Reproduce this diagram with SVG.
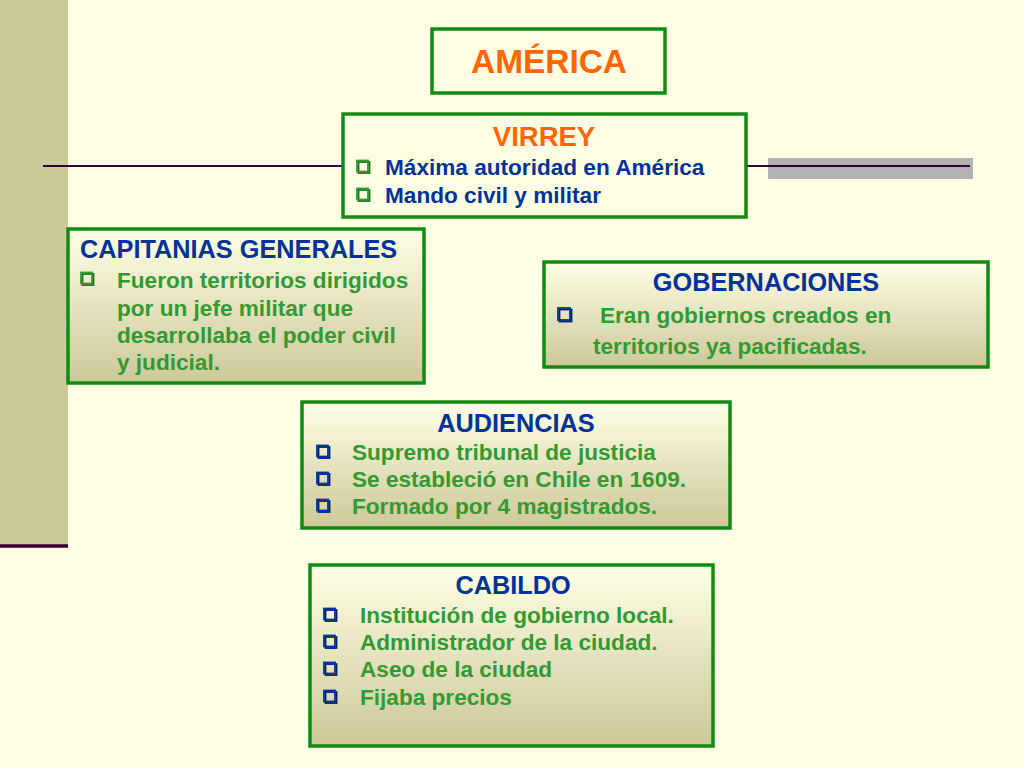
<svg xmlns="http://www.w3.org/2000/svg" width="1024" height="768" viewBox="0 0 1024 768">
<defs>
<linearGradient id="g" x1="0" y1="0" x2="0" y2="1">
<stop offset="0" stop-color="#FFFFE6"/>
<stop offset="1" stop-color="#CCC898"/>
</linearGradient>
<style>
.box{stroke:#138A13;stroke-width:3.5}
.plain{fill:#FFFFE3}
.grad{fill:url(#g)}
text{font-family:"Liberation Sans",Arial,sans-serif;font-weight:bold}
.or{fill:#FF6600}
.bl{fill:#003399}
.gr{fill:#339933}
.t{font-size:25.3px}
.s{font-size:22.6px}
.bg{fill:none;stroke:#339933;stroke-width:1.8}
.bgs{fill:none;stroke:#1F6E1F;stroke-width:1.8}
.bb{fill:none;stroke:#003399;stroke-width:1.8}
.bbs{fill:none;stroke:#001F66;stroke-width:1.8}
</style>
</defs>
<rect x="0" y="0" width="1024" height="768" fill="#FFFFE3"/>
<rect x="0" y="0" width="68" height="546" fill="#CCCA9A"/>
<line x1="0" y1="546" x2="68" y2="546" stroke="#330033" stroke-width="3.5"/>
<rect x="768" y="158" width="205" height="21" fill="#B2B2B2"/>
<g id="connectors">
<line x1="43" y1="166" x2="970" y2="166" stroke="#330033" stroke-width="2"/>
</g>
<g id="america">
<rect class="box plain" x="432" y="29" width="233" height="64"/>
<text class="or" x="549" y="73" font-size="33.4" text-anchor="middle">AMÉRICA</text>
</g>
<g id="virrey">
<rect class="box plain" x="343" y="114" width="403" height="103"/>
<text class="or" x="544" y="146" font-size="27.5" text-anchor="middle">VIRREY</text>
<rect class="bgs" x="358.5" y="162" width="11" height="11"/><rect class="bg" x="357" y="160.5" width="11" height="11"/>
<text class="bl s" x="385" y="175">Máxima autoridad en América</text>
<rect class="bgs" x="358.5" y="190" width="11" height="11"/><rect class="bg" x="357" y="188.5" width="11" height="11"/>
<text class="bl s" x="385" y="203">Mando civil y militar</text>
</g>
<g id="capitanias">
<rect class="box grad" x="68" y="229" width="356" height="154"/>
<text class="bl t" x="80" y="258">CAPITANIAS GENERALES</text>
<rect class="bgs" x="82.5" y="274" width="11" height="11"/><rect class="bg" x="81" y="272.5" width="11" height="11"/>
<text class="gr s" x="117" y="288">Fueron territorios dirigidos</text>
<text class="gr s" x="117" y="316">por un jefe militar que</text>
<text class="gr s" x="117" y="343">desarrollaba el poder civil</text>
<text class="gr s" x="117" y="370">y judicial.</text>
</g>
<g id="gobernaciones">
<rect class="box grad" x="544" y="262" width="444" height="105"/>
<text class="bl t" x="766" y="291" text-anchor="middle">GOBERNACIONES</text>
<rect class="bbs" x="559.5" y="309.5" width="12" height="12"/><rect class="bb" x="558" y="308" width="12" height="12"/>
<text class="gr s" x="600" y="323">Eran gobiernos creados en</text>
<text class="gr s" x="593" y="354">territorios ya pacificadas.</text>
</g>
<g id="audiencias">
<rect class="box grad" x="302" y="402" width="428" height="126"/>
<text class="bl t" x="516" y="432" text-anchor="middle">AUDIENCIAS</text>
<rect class="bbs" x="318.5" y="447" width="11" height="11"/><rect class="bb" x="317" y="445.5" width="11" height="11"/>
<text class="gr s" x="352" y="460">Supremo tribunal de justicia</text>
<rect class="bbs" x="318.5" y="474" width="11" height="11"/><rect class="bb" x="317" y="472.5" width="11" height="11"/>
<text class="gr s" x="352" y="487">Se estableció en Chile en 1609.</text>
<rect class="bbs" x="318.5" y="501" width="11" height="11"/><rect class="bb" x="317" y="499.5" width="11" height="11"/>
<text class="gr s" x="352" y="514">Formado por 4 magistrados.</text>
</g>
<g id="cabildo">
<rect class="box grad" x="310" y="565" width="403" height="181"/>
<text class="bl t" x="513" y="594" text-anchor="middle">CABILDO</text>
<rect class="bbs" x="325.5" y="610" width="11" height="11"/><rect class="bb" x="324" y="608.5" width="11" height="11"/>
<text class="gr s" x="360" y="623">Institución de gobierno local.</text>
<rect class="bbs" x="325.5" y="637" width="11" height="11"/><rect class="bb" x="324" y="635.5" width="11" height="11"/>
<text class="gr s" x="360" y="650">Administrador de la ciudad.</text>
<rect class="bbs" x="325.5" y="664" width="11" height="11"/><rect class="bb" x="324" y="662.5" width="11" height="11"/>
<text class="gr s" x="360" y="677">Aseo de la ciudad</text>
<rect class="bbs" x="325.5" y="692" width="11" height="11"/><rect class="bb" x="324" y="690.5" width="11" height="11"/>
<text class="gr s" x="360" y="705">Fijaba precios</text>
</g>
</svg>
